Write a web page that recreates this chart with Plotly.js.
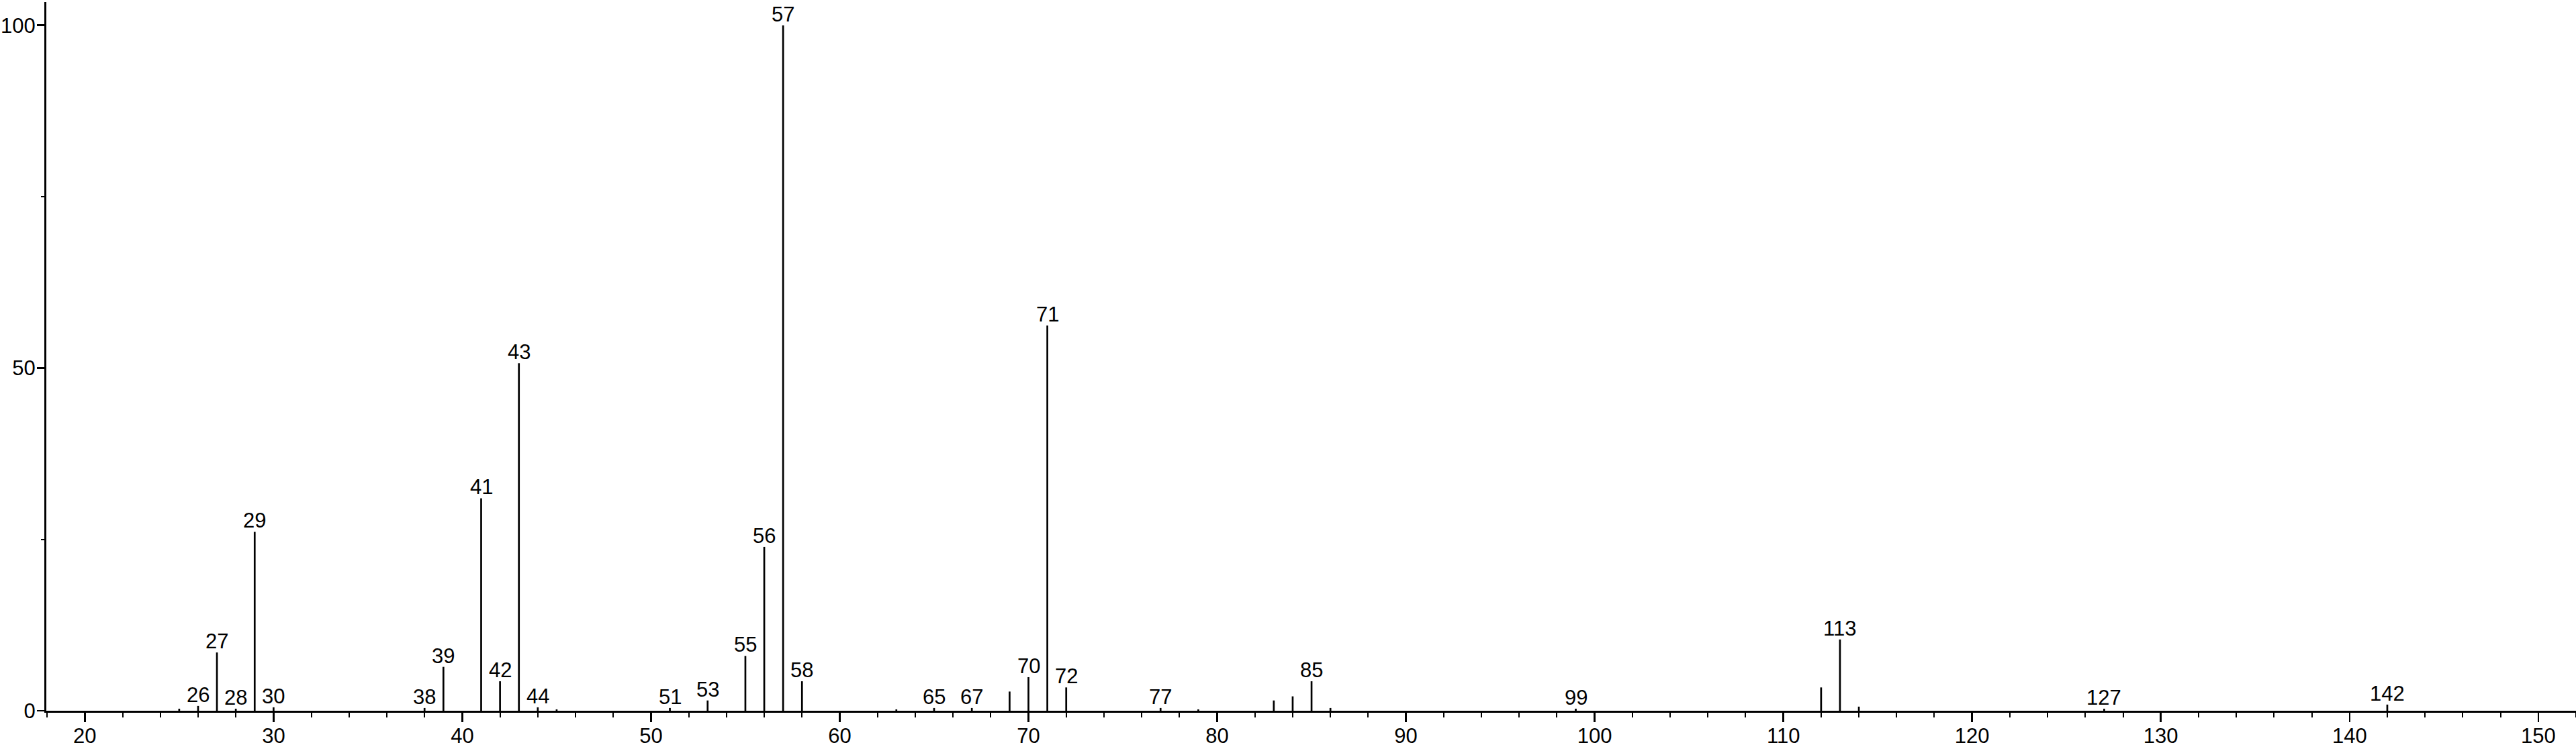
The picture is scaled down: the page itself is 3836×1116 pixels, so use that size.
<!DOCTYPE html>
<html>
<head>
<meta charset="utf-8">
<script src="https://cdn.plot.ly/plotly-3.0.1.min.js"></script>
<style>html,body{margin:0;padding:0;background:#fff;}#chart{width:3836px;height:1116px;}</style>
</head>
<body>
<div id="chart"></div>
<script>
// m/z values and relative intensities (%)
const mz =        [25, 26, 27, 28, 29, 30, 38, 39, 41, 42, 43, 44, 45, 51, 53, 55, 56, 57, 58, 63, 65, 67, 69, 70, 71, 72, 77, 79, 83, 84, 85, 86, 99, 112, 113, 114, 127, 142];
const intensity = [0.3, 0.7, 8.5, 0.3, 26.1, 0.5, 0.4, 6.4, 31.0, 4.3, 50.7, 0.5, 0.2, 0.4, 1.5, 8.0, 23.9, 100, 4.3, 0.2, 0.4, 0.4, 2.8, 4.9, 56.2, 3.4, 0.4, 0.2, 1.5, 2.1, 4.3, 0.4, 0.3, 3.4, 10.4, 0.6, 0.3, 0.9];
// peaks carrying an m/z label
const labelled = [26, 27, 28, 29, 30, 38, 39, 41, 42, 43, 44, 51, 53, 55, 56, 57, 58, 65, 67, 70, 71, 72, 77, 85, 99, 113, 127, 142];
const xTickVals = [20, 30, 40, 50, 60, 70, 80, 90, 100, 110, 120, 130, 140, 150];
const yTickVals = [0, 50, 100];

const FONT = "Liberation Sans, Arial, sans-serif";

// stick spectrum: one vertical segment per peak
const sx = [], sy = [];
mz.forEach((m, i) => { sx.push(m, m, null); sy.push(0, intensity[i], null); });

const annotations = labelled.map(m => {
  const i = mz.indexOf(m);
  return {
    x: m, y: intensity[i], xref: 'x', yref: 'y',
    text: String(m), showarrow: false,
    xanchor: 'center', yanchor: 'bottom', yshift: -2, borderpad: 0,
    font: {family: FONT, size: 31, color: '#000'}
  };
});

const data = [{
  type: 'scatter', mode: 'lines', x: sx, y: sy,
  line: {color: '#000', width: 2.7}, hoverinfo: 'skip', showlegend: false
}];

const layout = {
  width: 3836, height: 1116,
  margin: {l: 69, r: 0, t: 3, b: 57, pad: 0},
  paper_bgcolor: '#fff', plot_bgcolor: '#fff',
  showlegend: false,
  font: {family: FONT, size: 31, color: '#000'},
  xaxis: {
    range: [17.96, 152.0], showgrid: false, zeroline: false,
    showline: true, linecolor: '#000', linewidth: 3,
    tickmode: 'array', tickvals: xTickVals, ticktext: xTickVals.map(String),
    ticks: 'outside', ticklen: 14, tickwidth: 2.5, tickcolor: '#000',
    ticklabelstandoff: -6,
    minor: {dtick: 2, tick0: 0, ticks: 'outside', ticklen: 7, tickwidth: 2, tickcolor: '#000'},
    tickfont: {family: FONT, size: 31, color: '#000'}
  },
  yaxis: {
    range: [0, 103.4], showgrid: false, zeroline: false,
    showline: true, linecolor: '#000', linewidth: 3,
    tickmode: 'array', tickvals: yTickVals, ticktext: yTickVals.map(String),
    ticks: 'outside', ticklen: 11, tickwidth: 2.5, tickcolor: '#000',
    ticklabelstandoff: -4,
    minor: {tickvals: [25, 75], ticks: 'outside', ticklen: 5, tickwidth: 2, tickcolor: '#000'},
    tickfont: {family: FONT, size: 31, color: '#000'}
  },
  annotations: annotations
};

Plotly.newPlot('chart', data, layout, {staticPlot: true, displayModeBar: false});
</script>
</body>
</html>
